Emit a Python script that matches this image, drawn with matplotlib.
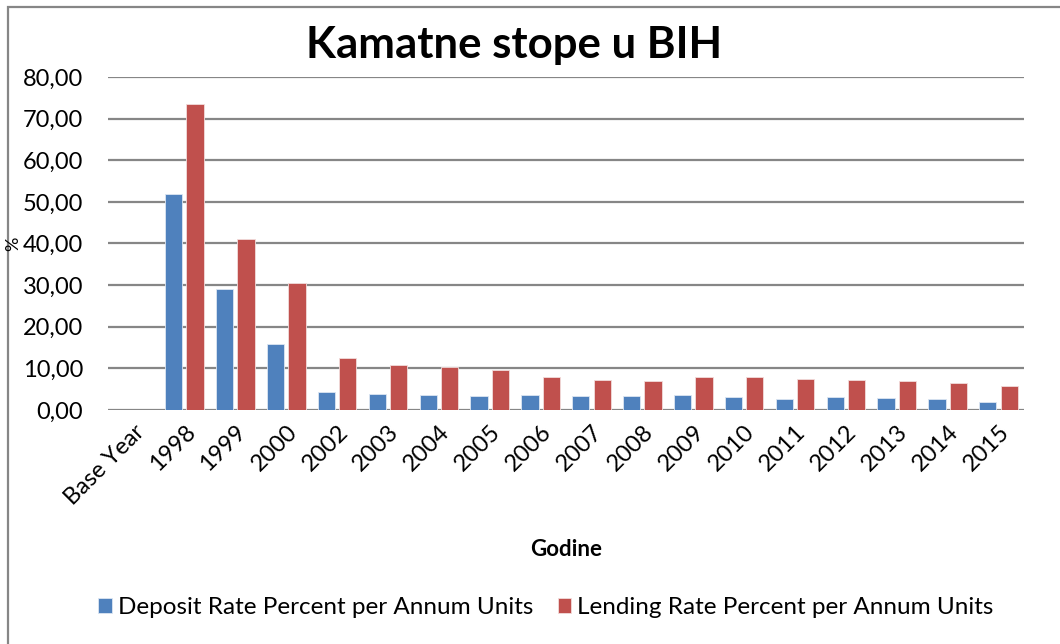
import matplotlib
matplotlib.use('Agg')
import matplotlib.pyplot as plt
from matplotlib.patches import Rectangle
from matplotlib.ticker import FuncFormatter
import numpy as np

plt.rcParams['font.family'] = ['Lato', 'DejaVu Sans']

years = ['Base Year', '1998', '1999', '2000', '2002', '2003', '2004', '2005', '2006',
         '2007', '2008', '2009', '2010', '2011', '2012', '2013', '2014', '2015']
deposit = [np.nan, 51.9, 29.1, 15.9, 4.4, 3.8, 3.5, 3.4, 3.5,
           3.4, 3.3, 3.5, 3.0, 2.6, 3.0, 2.9, 2.6, 1.9]
lending = [np.nan, 73.5, 41.0, 30.5, 12.6, 10.7, 10.3, 9.6, 7.9,
           7.1, 6.9, 7.9, 7.9, 7.4, 7.2, 6.9, 6.5, 5.7]

blue = '#4F81BD'
red = '#C0504D'
grid_c = '#868686'

fig = plt.figure(figsize=(10.6, 6.44), dpi=100)
ax = fig.add_axes([0.102, 0.3634, 0.864, 0.517])

x = np.arange(len(years))
w = 0.34
ax.bar(x - 0.21, deposit, w, color=blue, edgecolor='#DCE6F2', linewidth=0.6,
       label='Deposit Rate Percent per Annum Units', zorder=3)
ax.bar(x + 0.21, lending, w, color=red, edgecolor='#F2DCDB', linewidth=0.6,
       label='Lending Rate Percent per Annum Units', zorder=3)

ax.set_xlim(-0.5, len(years) - 0.5)
ax.set_ylim(0, 80)
ax.set_yticks(np.arange(0, 81, 10))
ax.yaxis.set_major_formatter(FuncFormatter(lambda v, p: f'{v:.2f}'.replace('.', ',')))
ax.grid(axis='y', color=grid_c, linewidth=1.6, zorder=0)
ax.set_axisbelow(True)
for s in ax.spines.values():
    s.set_visible(False)
ax.tick_params(axis='y', length=0, labelsize=17, pad=18)
ax.tick_params(axis='x', length=0, labelsize=17, pad=8)
ax.set_xticks(x)
ax.set_xticklabels(years, rotation=45, ha='right', va='top', rotation_mode='anchor')
ax.set_xlabel('Godine', fontsize=16, fontweight='bold', labelpad=22)

fig.text(0.0125, 0.621, '%', rotation=90, fontsize=13, ha='center', va='center')

fig.text(0.485, 0.93, 'Kamatne stope u BIH', fontsize=31.5, fontweight='bold',
         ha='center', va='center')

fig.legend(loc='center', bbox_to_anchor=(0.515, 0.057), ncol=2, frameon=False,
           fontsize=17.5, handlelength=0.55, handleheight=0.55, handletextpad=0.25,
           columnspacing=1.0)

fig.patches.append(Rectangle((8 / 1060, -0.1), 1.2, 1.1 - 7 / 644, transform=fig.transFigure,
                             fill=False, edgecolor=grid_c, linewidth=1.6))

fig.savefig('out.png', dpi=100)
